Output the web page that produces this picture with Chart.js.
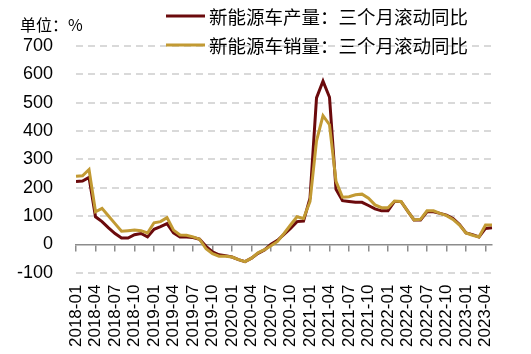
<!DOCTYPE html>
<html>
<head>
<meta charset="utf-8">
<script src="https://cdn.jsdelivr.net/npm/chart.js@4.4.1/dist/chart.umd.min.js"></script>
<style>
  html, body { margin: 0; padding: 0; background: #ffffff; }
  #wrap { width: 531px; height: 354px; }
</style>
</head>
<body>
<div id="wrap"><canvas id="c" width="531" height="354"></canvas></div>
<script>
const months = [
  '2018-01','2018-02','2018-03','2018-04','2018-05','2018-06','2018-07','2018-08','2018-09','2018-10','2018-11','2018-12',
  '2019-01','2019-02','2019-03','2019-04','2019-05','2019-06','2019-07','2019-08','2019-09','2019-10','2019-11','2019-12',
  '2020-01','2020-02','2020-03','2020-04','2020-05','2020-06','2020-07','2020-08','2020-09','2020-10','2020-11','2020-12',
  '2021-01','2021-02','2021-03','2021-04','2021-05','2021-06','2021-07','2021-08','2021-09','2021-10','2021-11','2021-12',
  '2022-01','2022-02','2022-03','2022-04','2022-05','2022-06','2022-07','2022-08','2022-09','2022-10','2022-11','2022-12',
  '2023-01','2023-02','2023-03','2023-04','2023-05'
];

const productionYoY = [
  222, 223, 236, 97, 80, 58, 38, 22, 22, 34, 38, 26,
  53, 62, 73, 40, 26, 26, 24, 18, -7, -27, -37, -40,
  -45, -54, -61, -49, -32, -20, 0, 14, 35, 56, 80, 82,
  163, 517, 576, 519, 194, 154, 151, 148, 148, 137, 125, 118,
  118, 151, 151, 118, 86, 86, 115, 115, 109, 103, 91, 70,
  40, 34, 26, 56, 58
];

const salesYoY = [
  240, 242, 264, 115, 127, 100, 73, 46, 48, 50, 48, 40,
  76, 80, 94, 50, 33, 32, 26, 18, -16, -33, -42, -42,
  -45, -54, -61, -49, -30, -19, -5, 10, 38, 68, 97, 91,
  151, 365, 454, 422, 222, 166, 168, 175, 177, 163, 139, 129,
  129, 153, 151, 118, 86, 88, 118, 118, 109, 101, 88, 68,
  40, 32, 26, 68, 68
];

const yTicks = [-100, 0, 100, 200, 300, 400, 500, 600, 700];
const seriesNames = ['新能源车产量：三个月滚动同比', '新能源车销量：三个月滚动同比'];
const unitLabel = '单位：%';

const COLOR_PROD = '#6B0A0C';
const COLOR_SALES = '#C29A33';
const LATIN = '"Liberation Sans", Arial, sans-serif';
const CJK = '"Noto Sans CJK SC", "Liberation Sans", sans-serif';

const overlayPlugin = {
  id: 'overlay',
  afterDraw(chart) {
    const ctx = chart.ctx;
    ctx.save();
    ctx.fillStyle = '#000000';
    ctx.font = '16px ' + CJK;
    ctx.textBaseline = 'middle';
    ctx.textAlign = 'left';
    ctx.fillText(unitLabel, 20, 25);
    const rows = [
      { y: 16, color: COLOR_PROD, text: seriesNames[0] },
      { y: 45, color: COLOR_SALES, text: seriesNames[1] }
    ];
    ctx.font = '18.5px ' + CJK;
    rows.forEach(r => {
      ctx.strokeStyle = r.color;
      ctx.lineWidth = 3;
      ctx.beginPath();
      ctx.moveTo(166, r.y);
      ctx.lineTo(205, r.y);
      ctx.stroke();
      ctx.fillStyle = '#000000';
      ctx.fillText(r.text, 209, r.y + 1);
    });
    ctx.restore();
  }
};

new Chart(document.getElementById('c'), {
  type: 'line',
  data: {
    labels: months,
    datasets: [
      {
        label: seriesNames[0],
        data: productionYoY,
        borderColor: COLOR_PROD,
        backgroundColor: COLOR_PROD,
        borderWidth: 3,
        pointRadius: 0,
        tension: 0,
        order: 1
      },
      {
        label: seriesNames[1],
        data: salesYoY,
        borderColor: COLOR_SALES,
        backgroundColor: COLOR_SALES,
        borderWidth: 3,
        pointRadius: 0,
        tension: 0,
        order: 0
      }
    ]
  },
  options: {
    responsive: false,
    animation: false,
    layout: { padding: { top: 46, left: -6, right: 39, bottom: -5 } },
    plugins: {
      legend: { display: false },
      tooltip: { enabled: false }
    },
    scales: {
      x: {
        type: 'category',
        position: 'bottom',
        offset: false,
        grid: { display: false, drawTicks: false },
        border: { display: false },
        ticks: {
          autoSkip: false,
          minRotation: 90,
          maxRotation: 90,
          padding: 12,
          color: '#000000',
          font: { family: LATIN, size: 17 },
          callback: function (v, i) { return i % 3 === 0 ? months[i] : ''; }
        }
      },
      x2: {
        type: 'category',
        labels: months,
        position: { y: 0 },
        offset: false,
        grid: {
          drawOnChartArea: false,
          drawTicks: true,
          tickLength: 6,
          lineWidth: 1.5,
          color: (c) => (c.index % 3 === 0 ? '#8C8C8C' : 'rgba(0,0,0,0)'),
          tickColor: (c) => (c.index % 3 === 0 ? '#8C8C8C' : 'rgba(0,0,0,0)')
        },
        border: { display: true, color: '#8C8C8C', width: 1.5 },
        ticks: { display: false, autoSkip: false }
      },
      y: {
        min: -100,
        max: 700,
        afterBuildTicks: (axis) => { axis.ticks = yTicks.map(v => ({ value: v })); },
        grid: {
          drawTicks: false,
          lineWidth: 2,
          color: (c) => (c.tick && c.tick.value === 0 ? 'rgba(0,0,0,0)' : '#D9D9D9')
        },
        border: { display: false, dash: [7, 5] },
        ticks: {
          padding: 23,
          color: '#000000',
          font: { family: LATIN, size: 18 }
        }
      }
    }
  },
  plugins: [overlayPlugin]
});
</script>
</body>
</html>
